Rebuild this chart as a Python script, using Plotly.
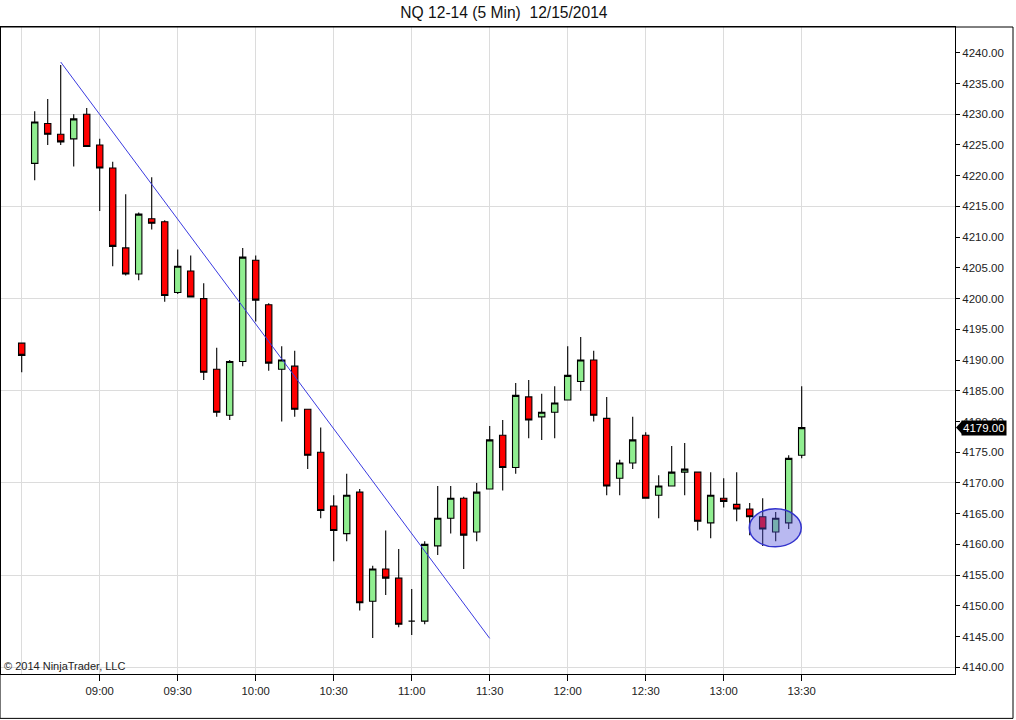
import plotly.graph_objects as go

# ---- data ----
TIMES = [
    "08:30", "08:35", "08:40", "08:45", "08:50", "08:55",
    "09:00", "09:05", "09:10", "09:15", "09:20", "09:25",
    "09:30", "09:35", "09:40", "09:45", "09:50", "09:55",
    "10:00", "10:05", "10:10", "10:15", "10:20", "10:25",
    "10:30", "10:35", "10:40", "10:45", "10:50", "10:55",
    "11:00", "11:05", "11:10", "11:15", "11:20", "11:25",
    "11:30", "11:35", "11:40", "11:45", "11:50", "11:55",
    "12:00", "12:05", "12:10", "12:15", "12:20", "12:25",
    "12:30", "12:35", "12:40", "12:45", "12:50", "12:55",
    "13:00", "13:05", "13:10", "13:15", "13:20", "13:25",
    "13:30",
]
OPEN = [
    4192.75, 4222.0, 4228.5, 4226.75, 4226.0, 4230.0,
    4225.0, 4221.25, 4208.25, 4204.0, 4213.0, 4212.5,
    4201.0, 4204.5, 4200.0, 4188.5, 4181.0, 4189.75,
    4206.25, 4199.0, 4188.5, 4189.0, 4182.0, 4175.0,
    4166.25, 4161.75, 4168.5, 4150.75, 4156.0, 4154.5,
    4147.5, 4147.5, 4159.75, 4164.25, 4167.5, 4162.0,
    4169.0, 4177.75, 4172.5, 4184.0, 4180.75, 4181.5,
    4183.5, 4186.5, 4190.0, 4180.5, 4170.75, 4173.25,
    4177.75, 4168.0, 4169.5, 4171.75, 4171.75, 4163.5,
    4167.5, 4166.5, 4165.75, 4164.5, 4162.0, 4163.5,
    4174.5,
]
HIGH = [
    4192.75, 4230.5, 4232.5, 4238.0, 4230.0, 4231.0,
    4226.0, 4222.25, 4217.0, 4214.0, 4219.75, 4212.75,
    4208.0, 4207.0, 4202.5, 4192.0, 4190.0, 4208.25,
    4207.0, 4199.25, 4192.25, 4191.5, 4182.0, 4179.0,
    4168.0, 4171.5, 4169.0, 4156.5, 4162.25, 4159.25,
    4152.75, 4160.5, 4169.5, 4169.5, 4167.75, 4170.0,
    4179.25, 4180.25, 4186.25, 4186.75, 4184.5, 4185.75,
    4192.25, 4193.75, 4191.5, 4184.0, 4173.75, 4180.75,
    4178.25, 4171.25, 4176.0, 4176.5, 4171.75, 4171.75,
    4170.75, 4171.75, 4166.75, 4167.5, 4165.25, 4174.5,
    4185.75,
]
LOW = [
    4188.0, 4219.25, 4225.0, 4225.0, 4221.5, 4224.75,
    4214.25, 4205.25, 4203.75, 4203.0, 4211.25, 4199.5,
    4200.75, 4200.25, 4186.75, 4180.75, 4180.25, 4189.0,
    4196.25, 4188.25, 4180.0, 4180.75, 4172.25, 4164.25,
    4157.25, 4160.5, 4149.25, 4144.75, 4151.75, 4146.5,
    4145.25, 4147.0, 4158.25, 4161.75, 4156.0, 4160.5,
    4169.0, 4168.75, 4171.5, 4177.25, 4177.0, 4177.25,
    4183.5, 4185.0, 4180.0, 4168.0, 4168.0, 4172.25,
    4167.5, 4164.25, 4169.5, 4168.0, 4162.25, 4161.0,
    4166.0, 4163.75, 4161.5, 4159.75, 4160.5, 4162.5,
    4174.0,
]
CLOSE = [
    4190.75, 4228.75, 4226.75, 4225.5, 4229.25, 4224.75,
    4221.25, 4208.5, 4204.0, 4213.75, 4212.25, 4200.5,
    4205.25, 4200.25, 4188.0, 4181.5, 4189.75, 4206.75,
    4199.75, 4189.5, 4190.0, 4182.0, 4174.5, 4165.5,
    4162.25, 4168.0, 4150.5, 4156.0, 4154.5, 4147.0,
    4147.5, 4160.0, 4164.25, 4167.5, 4161.5, 4168.5,
    4177.0, 4172.5, 4184.25, 4180.25, 4181.5, 4183.0,
    4187.5, 4190.0, 4181.0, 4169.5, 4173.25, 4177.0,
    4167.5, 4169.5, 4171.75, 4172.25, 4163.75, 4168.0,
    4167.0, 4165.75, 4164.5, 4162.5, 4164.25, 4174.0,
    4179.0,
]

DATE = "2014-12-15"
TICK_TIMES = ["09:00", "09:30", "10:00", "10:30", "11:00", "11:30",
              "12:00", "12:30", "13:00", "13:30"]
EXTRA_GRID_TIMES = ["08:30"]

# drawing objects on the chart
TREND_TIMES = ["08:45:00", "11:30:00"]
TREND_PRICES = [4238.5, 4144.7]
ELLIPSE_TIMES = ["13:09:50", "13:29:50"]
ELLIPSE_PRICES = [4159.6, 4165.8]

TITLE = "NQ 12-14 (5 Min)&nbsp; 12/15/2014"
COPYRIGHT = "© 2014 NinjaTrader, LLC"

FONT = "Arial, Liberation Sans, sans-serif"
GRID = "#dcdcdc"

x = [f"{DATE} {t}" for t in TIMES]
xr = [f"{DATE} 08:22:02", f"{DATE} 14:28:58"]
yr = [4138.9, 4244.2]

fig = go.Figure()
fig.add_trace(go.Candlestick(
    x=x, open=OPEN, high=HIGH, low=LOW, close=CLOSE,
    increasing=dict(fillcolor="#90ee90", line=dict(color="#000000", width=1.1)),
    decreasing=dict(fillcolor="#ff0000", line=dict(color="#000000", width=1.1)),
    whiskerwidth=0, showlegend=False, hoverinfo="x+y",
))
# helper trace so that the 15-point grid axis exists
fig.add_trace(go.Scatter(
    x=x[:1], y=CLOSE[:1], yaxis="y2", mode="markers",
    marker=dict(opacity=0), hoverinfo="skip", showlegend=False,
))

fig.update_layout(
    width=1016, height=720,
    margin=dict(l=1, r=61, t=27, b=46),
    paper_bgcolor="white", plot_bgcolor="white",
    font=dict(family=FONT, size=11, color="#222222"),
    title=dict(text=TITLE, x=0.496, xref="container", xanchor="center",
               y=1 - 13 / 720, yref="container", yanchor="middle",
               font=dict(family=FONT, size=15.6, color="#111111")),
    showlegend=False,
    xaxis=dict(
        type="date", range=xr, rangeslider=dict(visible=False),
        tickmode="array",
        tickvals=[f"{DATE} {t}" for t in TICK_TIMES], ticktext=TICK_TIMES,
        ticks="outside", ticklen=6, tickcolor="#000000", tickwidth=1,
        showgrid=True, gridcolor=GRID, gridwidth=1,
        minor=dict(tickmode="array",
                   tickvals=[f"{DATE} {t}" for t in EXTRA_GRID_TIMES],
                   showgrid=True, gridcolor=GRID, ticks=""),
        showline=True, linecolor="#000000", linewidth=1, mirror=True,
        zeroline=False, fixedrange=True,
        tickfont=dict(family=FONT, size=11.3, color="#222222"),
    ),
    yaxis=dict(
        side="right", range=yr, tick0=4140, dtick=5, tickformat=".2f",
        ticks="outside", ticklen=4, tickcolor="#000000", tickwidth=1,
        showgrid=False, zeroline=False,
        showline=True, linecolor="#000000", linewidth=1, mirror=True,
        tickfont=dict(family=FONT, size=11.5, color="#222222"),
        fixedrange=True,
    ),
    yaxis2=dict(
        overlaying="y", side="right", range=yr, tick0=4140, dtick=15,
        showgrid=True, gridcolor=GRID, gridwidth=1,
        showticklabels=False, ticks="", showline=False, zeroline=False,
        fixedrange=True,
    ),
)

# trend line and highlight ellipse (drawn above candles)
fig.add_shape(type="line", xref="x", yref="y",
              x0=f"{DATE} {TREND_TIMES[0]}", y0=TREND_PRICES[0],
              x1=f"{DATE} {TREND_TIMES[1]}", y1=TREND_PRICES[1],
              line=dict(color="#3a3ae0", width=1), layer="above")
fig.add_shape(type="circle", xref="x", yref="y",
              x0=f"{DATE} {ELLIPSE_TIMES[0]}", y0=ELLIPSE_PRICES[0],
              x1=f"{DATE} {ELLIPSE_TIMES[1]}", y1=ELLIPSE_PRICES[1],
              line=dict(color="#3333cc", width=1.5),
              fillcolor="rgba(80,80,220,0.4)", layer="above")

# outer frame of the chart window
fig.add_shape(type="rect", xref="paper", yref="paper",
              x0=-0.001, x1=1.0608, y0=-0.0686, y1=1.0,
              line=dict(color="#000000", width=1), fillcolor="rgba(0,0,0,0)",
              layer="above")

# last-price marker
last = CLOSE[-1]
fig.add_shape(type="path", xref="paper", yref="y",
              xsizemode="pixel", ysizemode="pixel",
              xanchor=1, yanchor=last,
              path="M 1 0 L 7 6.5 L 7 -6.5 Z",
              fillcolor="#000000", line=dict(color="#000000", width=0),
              layer="above")
fig.add_annotation(xref="paper", yref="y", x=1, y=last,
                   xanchor="left", yanchor="middle", xshift=6,
                   text=f"{last:.2f}", showarrow=False,
                   bgcolor="#000000", borderpad=1,
                   font=dict(family=FONT, size=11.5, color="#ffffff"))

fig.add_annotation(xref="paper", yref="paper", x=0, y=0,
                   xanchor="left", yanchor="bottom", xshift=1, yshift=0,
                   text=COPYRIGHT, showarrow=False,
                   font=dict(family=FONT, size=11, color="#222222"))

fig.write_html("out.html", config={"displayModeBar": False},
               post_script="document.body.style.margin='0';document.body.style.overflow='hidden';")
